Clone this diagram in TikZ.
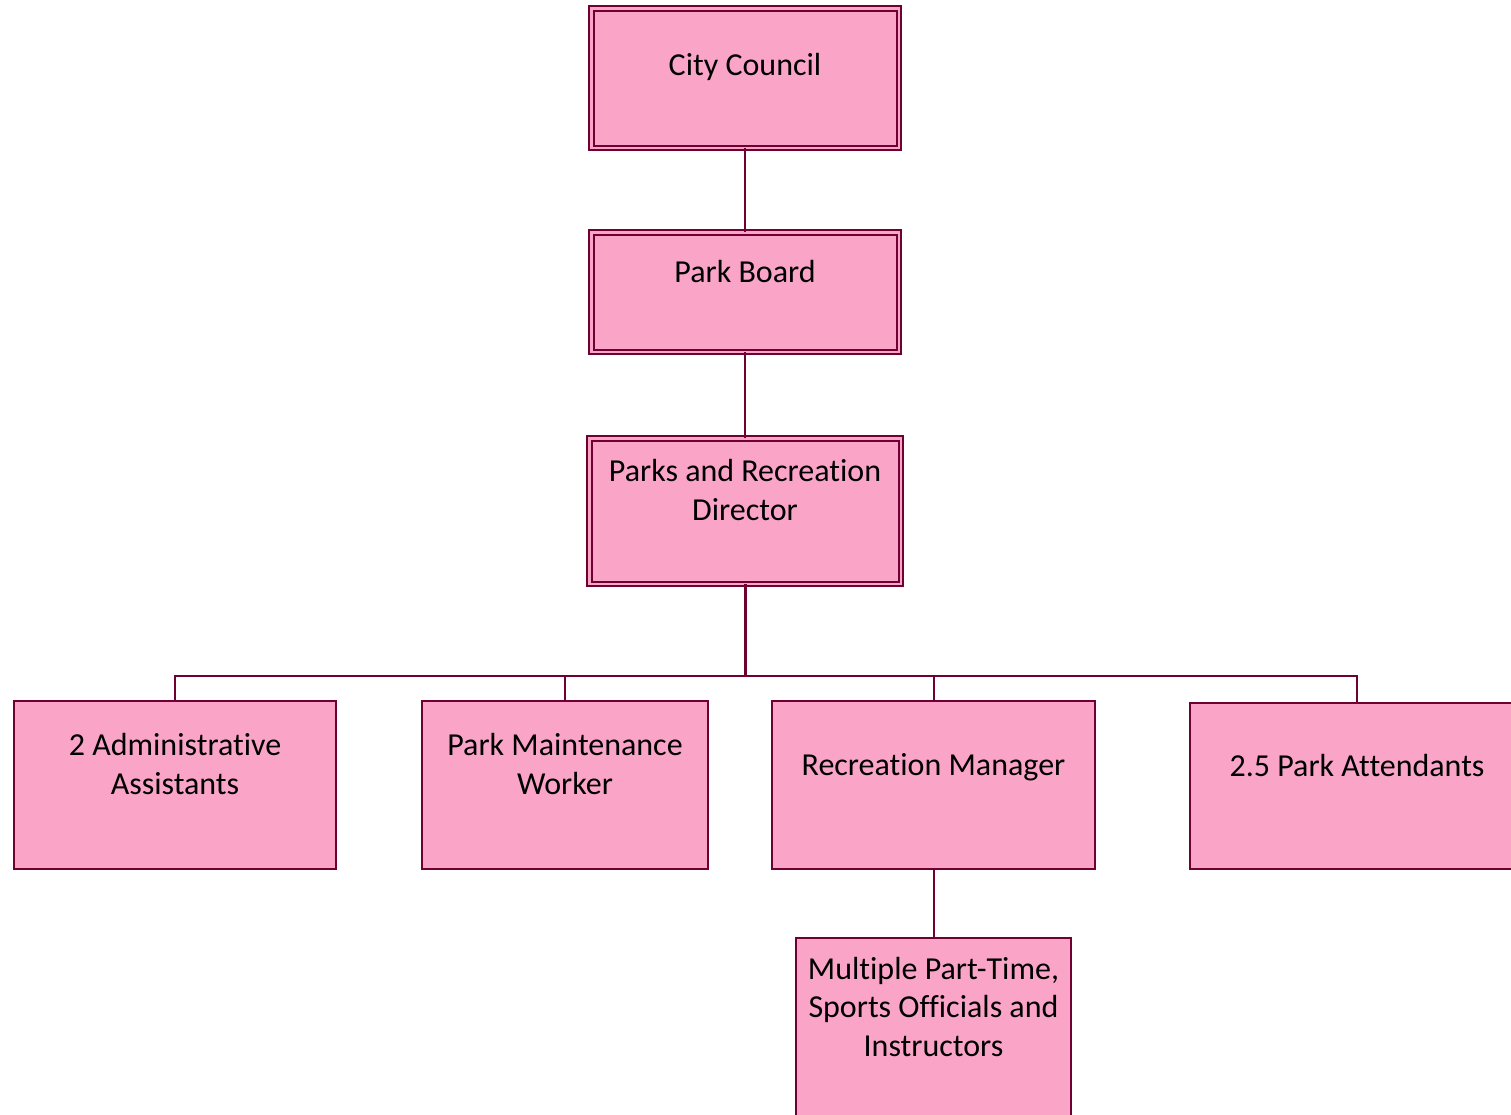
\documentclass[tikz,border=0pt]{standalone}
\usepackage{fontspec}
\setmainfont{Carlito}[Ligatures={NoCommon}]
\definecolor{pinkfill}{HTML}{FAA5C8}
\definecolor{maroonline}{HTML}{6E0032}
\begin{document}
\begin{tikzpicture}[x=1pt,y=-1pt,
  box/.style={draw=maroonline, fill=pinkfill, line width=2pt, inner sep=0pt, outer sep=0pt, rectangle},
  dbox/.style={box, double=pinkfill, double distance=2.5pt},
  lbl/.style={font=\fontsize{32}{38.5}\selectfont, align=center, inner sep=0pt, text=black, anchor=base},
  conn/.style={draw=maroonline, line width=2pt}]
\useasboundingbox (0,0) rectangle (1511,1114);
% boxes
\node[dbox, minimum width=307.5pt, minimum height=139.5pt] (cc) at (745,78) {};
\node[dbox, minimum width=307.5pt, minimum height=119.5pt] (pb) at (745,292) {};
\node[dbox, minimum width=311.5pt, minimum height=145.5pt] (dir) at (745,511) {};
\node[box, minimum width=322pt, minimum height=168pt] (adm) at (175,785) {};
\node[box, minimum width=286pt, minimum height=168pt] (pmw) at (565,785) {};
\node[box, minimum width=323pt, minimum height=168pt] (rm) at (933.5,785) {};
\node[box, minimum width=334pt, minimum height=166pt] (pa) at (1357,786) {};
\node[box, minimum width=275pt, minimum height=202pt] (mpt) at (933.5,1039) {};
% connectors
\coordinate (bus) at (745,676);
\draw[conn] (cc.south) -- (pb.north);
\draw[conn] (pb.south) -- (dir.north);
\draw[conn, line width=3pt] (dir.south) -- (bus);
\draw[conn] (adm.north) |- (bus) -| (pa.north);
\draw[conn] (pmw.north) -- (pmw.north |- bus);
\draw[conn] (rm.north) -- (rm.north |- bus);
\draw[conn] (rm.south) -- (mpt.north);
% texts (base anchor = baseline of last line)
\node[lbl] (ccT) at (745,75) {City Council};
\node[lbl] (pbT) at (745,282) {Park Board};
\node[lbl] (dirT) at (745,520) {Parks and Recreation\\Director};
\node[lbl] (admT) at (175,794) {2 Administrative\\Assistants};
\node[lbl] (pmwT) at (565,794) {Park Maintenance\\Worker};
\node[lbl] (rmT) at (933.5,775) {Recreation Manager};
\node[lbl] (paT) at (1357,776) {2.5 Park Attendants};
\node[lbl] (mptT) at (933.5,1056) {Multiple Part-Time,\\Sports Officials and\\Instructors};
\end{tikzpicture}
\end{document}
